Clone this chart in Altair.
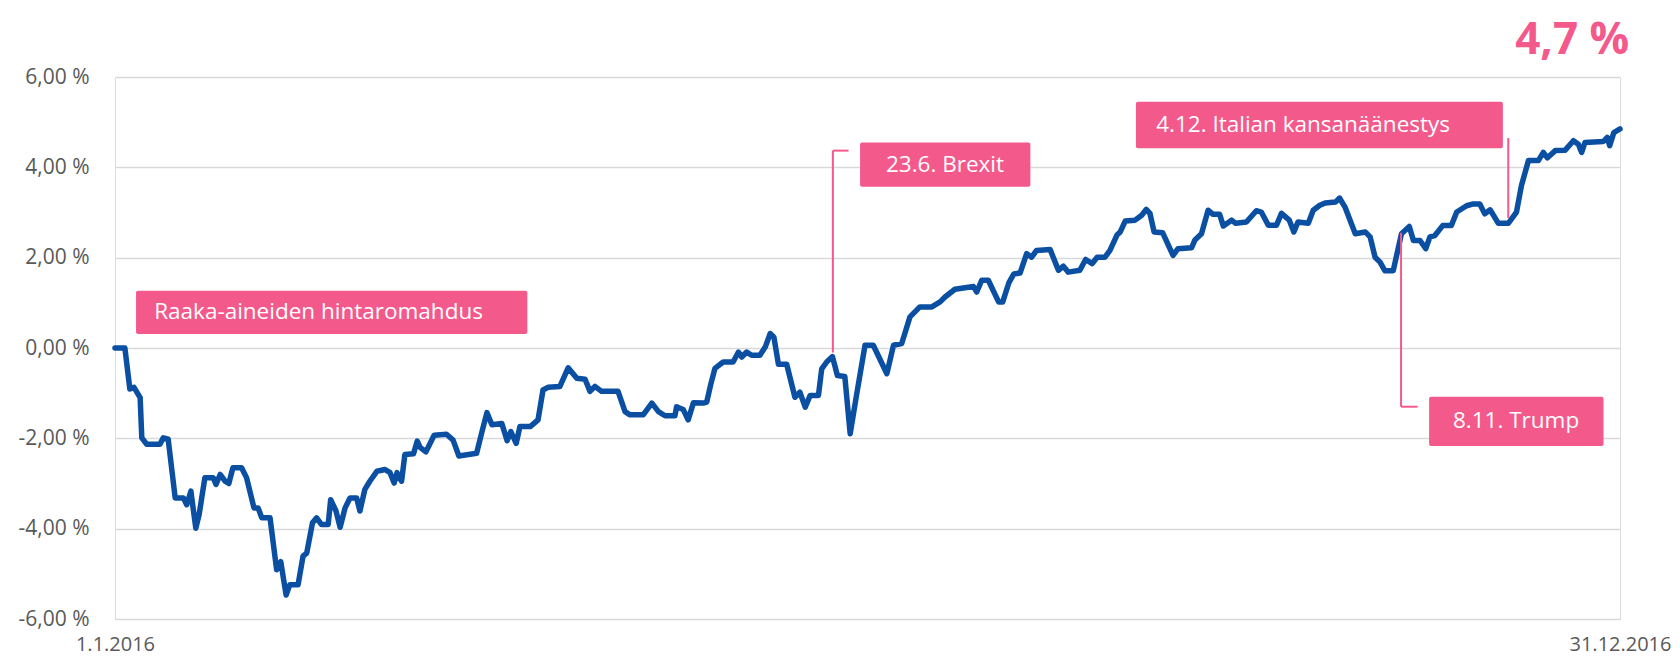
import altair as alt
import pandas as pd

# ---- series: day of year 2016 (0 = 1.1.2016, 365 = 31.12.2016) and cumulative return, %
day = [0, 2.4, 3.6, 4.6, 6.1, 6.5, 7.7, 10.9, 11.7, 12.9, 14.6, 16.6, 17.4, 18.4, 19.6, 20.4,
       21.8, 23.8, 24.5, 25.5, 26.7, 27.6, 28.6, 30.7, 31.9, 33.7, 34.7, 35.6, 37.6, 39.2, 40.2,
       41.5, 42.4, 44.4, 45.6, 46.5, 47.9, 48.9, 50.1, 51.7, 52.3, 53.6, 54.6, 55.8, 57.0, 58.6,
       59.4, 60.6, 61.8, 63.5, 65.5, 66.7, 67.7, 68.4, 69.5, 70.3, 72.4, 73.3, 74.0, 75.4, 77.4,
       80.4, 82.0, 83.4, 87.7, 88.9, 90.2, 91.4, 93.8, 95.1, 96.0, 97.3, 98.2, 100.7, 102.6, 103.8,
       105.0, 107.9, 109.9, 112.0, 114.0, 115.2, 116.4, 118.0, 122.0, 123.7, 124.9, 128.1, 130.2,
       131.8, 133.4, 135.8, 136.2, 137.8, 139.0, 140.3, 142.7, 143.5, 144.5, 145.5, 147.5, 149.9,
       151.2, 152.0, 153.2, 154.4, 156.4, 157.7, 158.9, 159.8, 160.9, 162.9, 164.9, 166.1, 167.4,
       168.6, 170.6, 171.4, 172.6, 174.0, 175.2, 177.0, 178.3, 179.9, 181.9, 183.9, 187.2, 188.8,
       190.8, 192.8, 195.2, 198.1, 200.1, 201.3, 203.7, 208.2, 209.0, 210.2, 211.8, 214.3, 215.3,
       216.8, 218.0, 219.5, 221.1, 222.3, 223.5, 226.8, 228.8, 230.0, 231.2, 234.0, 235.4, 237.0,
       238.2, 240.1, 241.3, 243.0, 243.8, 245.0, 247.4, 249.0, 250.1, 251.0, 252.0, 254.1, 256.6,
       257.8, 261.1, 261.9, 263.5, 265.1, 266.3, 267.9, 268.8, 270.8, 271.8, 274.4, 276.8, 278.0,
       279.7, 281.7, 282.9, 284.8, 285.9, 286.9, 289.4, 290.6, 292.2, 293.5, 296.0, 297.0, 298.3,
       300.8, 303.2, 304.4, 305.6, 306.8, 308.0, 310.0, 312.0, 313.9, 314.9, 316.5, 317.9, 318.9,
       320.1, 322.0, 324.1, 325.4, 327.8, 329.4, 331.0, 332.2, 333.5, 335.5, 337.9, 339.9, 341.1,
       342.8, 345.2, 346.4, 347.4, 349.3, 351.7, 353.7, 354.9, 355.7, 356.5, 360.9, 361.9, 362.5,
       363.5, 365.0]
value = [0.00, 0.00, -0.91, -0.87, -1.10, -1.99, -2.13, -2.13, -1.99, -2.02, -3.32, -3.32, -3.47,
         -3.17, -3.99, -3.69, -2.87, -2.87, -3.02, -2.80, -2.95, -3.00, -2.65, -2.65, -2.87, -3.54,
         -3.54, -3.76, -3.76, -4.91, -4.73, -5.47, -5.24, -5.24, -4.61, -4.54, -3.87, -3.76, -3.91,
         -3.91, -3.36, -3.61, -3.97, -3.54, -3.32, -3.32, -3.61, -3.13, -2.95, -2.73, -2.69, -2.76,
         -2.99, -2.76, -2.95, -2.36, -2.34, -2.06, -2.20, -2.30, -1.93, -1.91, -2.04, -2.39, -2.33,
         -1.89, -1.43, -1.70, -1.67, -2.05, -1.85, -2.11, -1.74, -1.74, -1.59, -0.93, -0.87, -0.85,
         -0.44, -0.67, -0.69, -0.96, -0.85, -0.96, -0.96, -1.41, -1.48, -1.48, -1.22, -1.41, -1.50,
         -1.50, -1.30, -1.36, -1.59, -1.21, -1.22, -1.20, -0.80, -0.45, -0.31, -0.31, -0.09, -0.20,
         -0.09, -0.16, -0.16, 0.02, 0.32, 0.24, -0.36, -0.36, -1.09, -0.98, -1.31, -1.05, -1.05,
         -0.46, -0.31, -0.19, -0.61, -0.63, -1.90, -1.01, 0.06, 0.06, -0.57, 0.06, 0.10, 0.69, 0.91,
         0.91, 1.02, 1.13, 1.30, 1.36, 1.24, 1.50, 1.50, 1.02, 1.02, 1.45, 1.64, 1.66, 2.09, 2.01,
         2.16, 2.18, 1.72, 1.81, 1.68, 1.72, 1.96, 1.87, 2.01, 2.01, 2.16, 2.50, 2.57, 2.81, 2.83,
         2.94, 3.07, 2.98, 2.57, 2.55, 2.05, 2.20, 2.22, 2.39, 2.53, 3.05, 2.96, 2.96, 2.70, 2.83,
         2.76, 2.79, 3.04, 3.01, 2.72, 2.72, 2.98, 2.83, 2.57, 2.79, 2.76, 3.05, 3.16, 3.21, 3.23,
         3.32, 3.12, 2.53, 2.57, 2.46, 2.01, 1.90, 1.71, 1.71, 2.53, 2.69, 2.38, 2.38, 2.20, 2.46,
         2.49, 2.71, 2.71, 3.01, 3.15, 3.19, 3.19, 2.97, 3.06, 2.76, 2.76, 3.01, 3.60, 4.15, 4.15,
         4.33, 4.21, 4.37, 4.38, 4.59, 4.51, 4.33, 4.55, 4.57, 4.66, 4.48, 4.77, 4.85]

y_ticks = [-6, -4, -2, 0, 2, 4, 6]
x_ticks = [0, 365]
x_tick_labels = ["1.1.2016", "31.12.2016"]

# ---- annotation boxes (data coordinates)
box_label = ["Raaka-aineiden hintaromahdus", "23.6. Brexit", "4.12. Italian kansanäänestys", "8.11. Trump"]
box_x1 = [5.1, 180.7, 247.6, 318.7]
box_x2 = [100.0, 222.0, 336.6, 361.0]
box_y1 = [0.31, 3.57, 4.42, -2.17]
box_y2 = [1.27, 4.55, 5.45, -1.08]
text_x = [9.5, 201.3, 252.5, 339.8]
text_y = [0.80, 4.05, 4.93, -1.62]
text_align = ["left", "center", "left", "center"]

# connector lines
vline_x = [174.1, 337.9, 311.9]
vline_y1 = [4.37, 4.65, 2.55]
vline_y2 = [-0.10, 2.88, -1.30]
tick_x1 = [174.1, 311.9]
tick_x2 = [177.9, 315.9]
tick_y = [4.37, -1.30]

headline = "4,7 %"
headline_x = 353.4
headline_y = 6.80

BLUE = "#0B4FA2"
PINK = "#F4598B"
GREY = "#595959"
FONT = "Open Sans"

df = pd.DataFrame({"day": day, "value": value})
boxes = pd.DataFrame({"x1": box_x1, "x2": box_x2, "y1": box_y1, "y2": box_y2})
texts = pd.DataFrame({"x": text_x, "y": text_y, "label": box_label, "align": text_align})
vlines = pd.DataFrame({"x": vline_x, "y1": vline_y1, "y2": vline_y2})
ticks = pd.DataFrame({"x1": tick_x1, "x2": tick_x2, "y": tick_y})
head = pd.DataFrame({"x": [headline_x], "y": [headline_y], "label": [headline]})

xs = alt.Scale(domain=[0, 365], nice=False, zero=False)
ys = alt.Scale(domain=[-6, 6], nice=False, zero=False)

x_label_expr = " : ".join(
    [f"datum.value == {v} ? '{l}'" for v, l in zip(x_ticks[:-1], x_tick_labels[:-1])]
) + f" : '{x_tick_labels[-1]}'"

line = alt.Chart(df).mark_line(
    color=BLUE, strokeWidth=5.5, strokeJoin="round", strokeCap="round"
).encode(
    x=alt.X("day:Q", scale=xs, axis=alt.Axis(
        values=x_ticks, labelExpr=x_label_expr, grid=False, domain=False, ticks=False,
        title=None, labelFontSize=20, labelColor=GREY, labelFont=FONT, labelPadding=15,
        labelFlush=False)),
    y=alt.Y("value:Q", scale=ys, axis=alt.Axis(
        values=y_ticks,
        labelExpr="(datum.value < 0 ? '-' : '') + replace(format(abs(datum.value), '.2f'), '.', ',') + ' %'",
        grid=True, gridColor="#D9D9D9", gridWidth=1.5, domain=False, ticks=False, title=None,
        labelFontSize=21, labelColor=GREY, labelFont=FONT, labelPadding=26)),
)

rects = alt.Chart(boxes).mark_rect(color=PINK, cornerRadius=2).encode(
    x=alt.X("x1:Q", scale=xs), x2="x2:Q",
    y=alt.Y("y1:Q", scale=ys), y2="y2:Q",
)

text_left = alt.Chart(texts).transform_filter("datum.align == 'left'").mark_text(
    align="left", baseline="middle", color="white", fontSize=22.5, font=FONT
).encode(x=alt.X("x:Q", scale=xs), y=alt.Y("y:Q", scale=ys), text="label:N")

text_center = alt.Chart(texts).transform_filter("datum.align == 'center'").mark_text(
    align="center", baseline="middle", color="white", fontSize=22.5, font=FONT
).encode(x=alt.X("x:Q", scale=xs), y=alt.Y("y:Q", scale=ys), text="label:N")

vl = alt.Chart(vlines).mark_rule(color=PINK, strokeWidth=2).encode(
    x=alt.X("x:Q", scale=xs), y=alt.Y("y1:Q", scale=ys), y2="y2:Q")

tk = alt.Chart(ticks).mark_rule(color=PINK, strokeWidth=2).encode(
    x=alt.X("x1:Q", scale=xs), x2="x2:Q", y=alt.Y("y:Q", scale=ys))

hd = alt.Chart(head).mark_text(
    align="center", baseline="middle", color=PINK, fontSize=44, fontWeight="bold", font=FONT
).encode(x=alt.X("x:Q", scale=xs), y=alt.Y("y:Q", scale=ys), text="label:N")

chart = alt.layer(line, vl, tk, rects, text_left, text_center, hd).properties(
    width=1505, height=542,
    padding={"left": 107, "top": 69, "right": 52, "bottom": 39},
    autosize=alt.AutoSizeParams(type="none"),
).configure_view(stroke=None).configure(background="white")

chart.save("out.html", embed_options={"renderer": "svg", "actions": False})
